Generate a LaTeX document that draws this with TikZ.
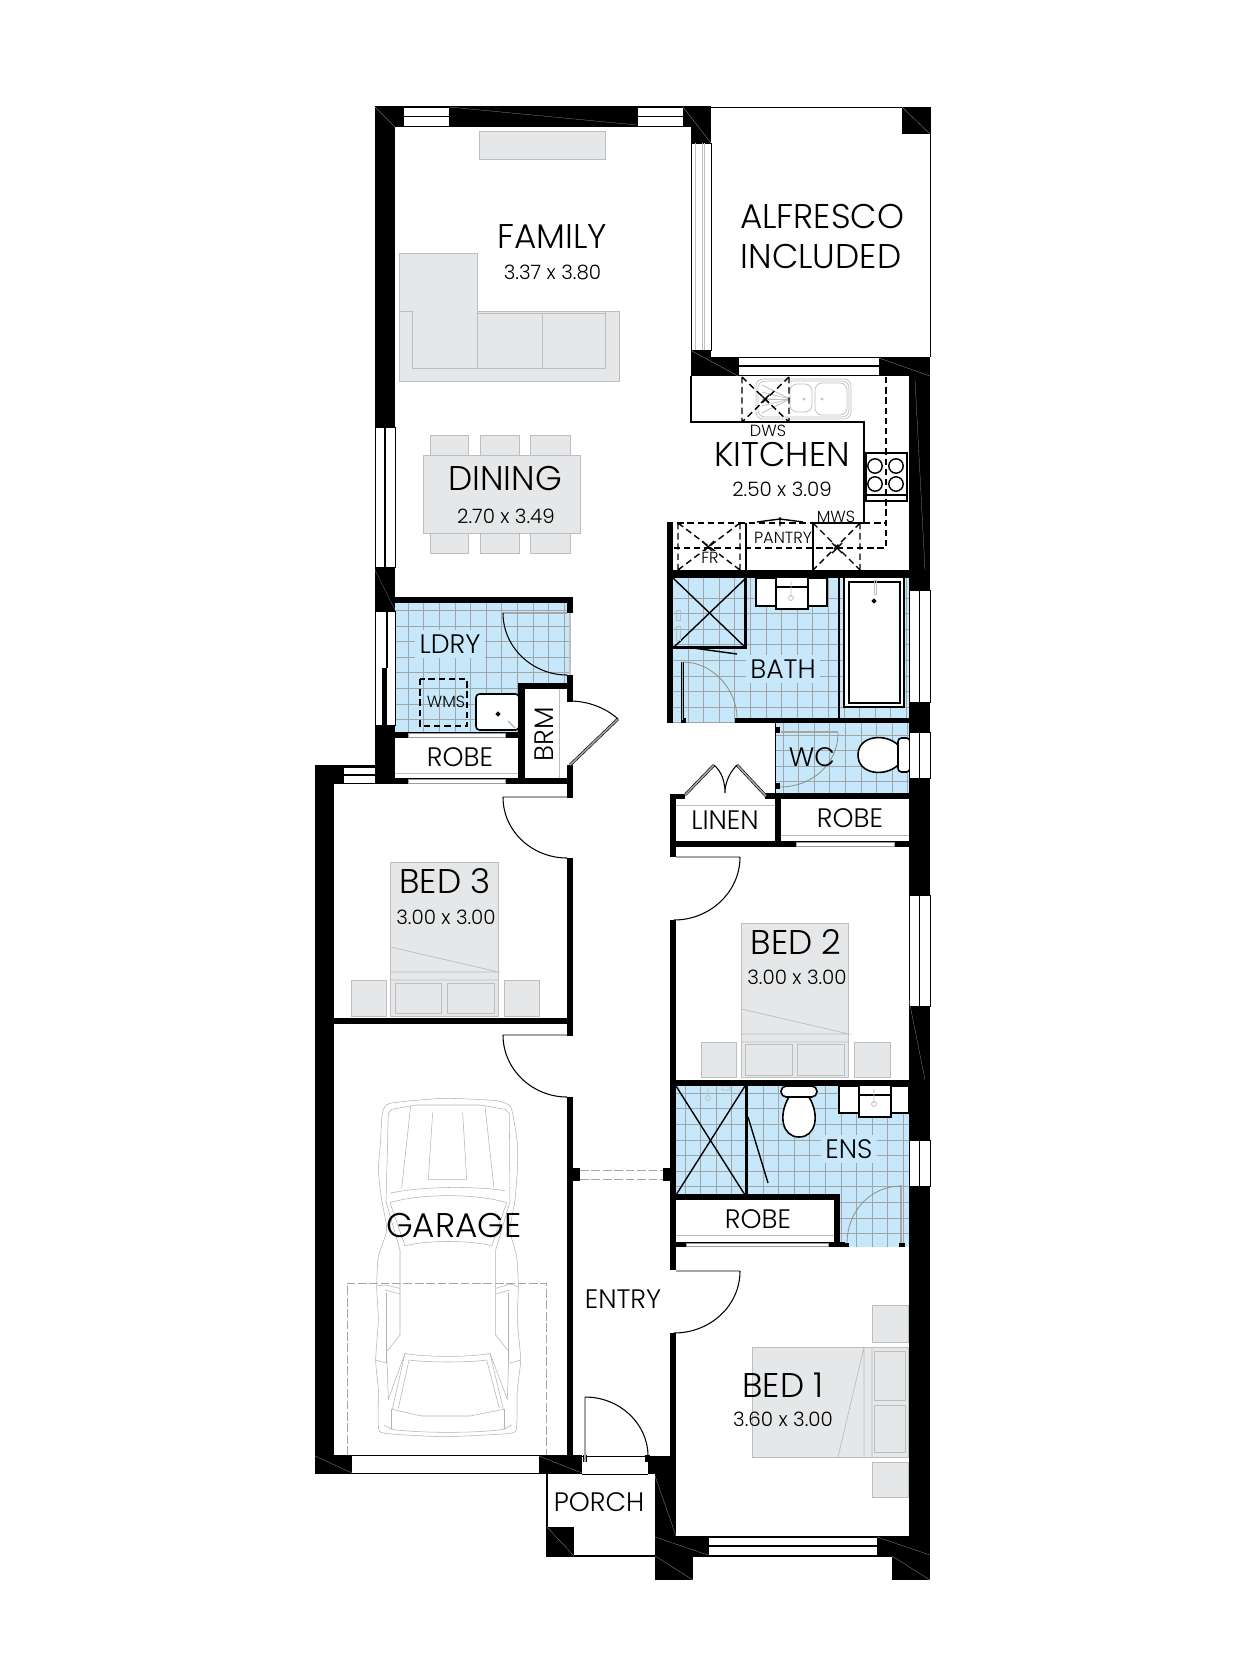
\documentclass[tikz,border=0pt]{standalone}
\usepackage{fontspec}
\setmainfont{Poppins Light}
\definecolor{TileBlue}{RGB}{198, 232, 250}
\definecolor{TileLine}{RGB}{160, 165, 168}
\definecolor{FurnGrey}{RGB}{230, 231, 232}
\definecolor{FurnLine}{RGB}{188, 190, 192}
\usetikzlibrary{arrows.meta, positioning, calc}

\begin{document}
\begin{tikzpicture}[
        x=0.02cm, y=-0.02cm,
        % Styles
        wall/.style={fill=black},
        hair/.style={draw=gray!60, line width=0.12pt},
        window/.style={fill=white, draw=black, line width=0.5pt},
        slimwin/.style={fill=white, draw=black!40, line width=0.3pt},
        furn/.style={fill=FurnGrey, draw=FurnLine, line width=0.5pt},
        fixture/.style={fill=white, draw=black, line width=0.9pt},
        thinfix/.style={draw=FurnLine, line width=0.4pt},
        kline/.style={draw=black, line width=0.8pt},
        kdash/.style={draw=black, line width=0.8pt, dash pattern=on 3.6pt off 2.2pt},
        doorleaf/.style={draw=black, line width=0.35pt, double=black!35, double distance=0.9pt},
        swing/.style={draw=black, line width=0.6pt},
        softswing/.style={draw=black!45, line width=0.45pt},
        car/.style={draw=black!30, line width=0.3pt},
        bigtext/.style={inner sep=0pt, font=\fontsize{19.5}{22}\selectfont},
        midtext/.style={inner sep=0pt, font=\fontsize{15.2}{18}\selectfont},
        dimtext/.style={inner sep=0pt, font=\fontsize{11.3}{14}\selectfont},
        tinytext/.style={inner sep=0pt, font=\fontsize{9.2}{11}\selectfont},
        onblue/.style={fill=TileBlue, inner sep=2.5pt}
    ]
        \useasboundingbox (0,0) rectangle (1245,1680);
        \fill[white] (0,0) rectangle (1245,1680);

        % Tiled rooms
        \foreach \xa/\ya/\xb/\yb/\gx/\gy in {673/578/909/723/688/598, 776/723/909/793/783/735,
            395/603/570/732/408.3/610.5, 676/1086/909/1247/685/1093.3}{
            \fill[TileBlue] (\xa,\ya) rectangle (\xb,\yb);
            \begin{scope}
                \clip (\xa,\ya) rectangle (\xb,\yb);
                \foreach \k in {0,...,15}{
                    \draw[TileLine, line width=0.55pt] ({\gx+15.6*\k},\ya) -- ({\gx+15.6*\k},\yb);
                    \draw[TileLine, line width=0.55pt] (\xa,{\gy+15.6*\k}) -- (\xb,{\gy+15.6*\k});
                }
            \end{scope}
        }
        \fill[white] (525,689) rectangle (570,778);
        \fill[white] (676,1200) rectangle (834,1247);

        % Family and dining furniture
        \draw[furn] (479.5,131) rectangle (605,159);
        \draw[furn] (399.5,253) -- (477,253) -- (477,311) -- (619,311) -- (619,381) -- (399.5,381) -- cycle;
        \draw[thinfix] (399.5,311) -- (412.5,311) -- (412.5,368) -- (605.6,368) -- (605.6,311);
        \draw[thinfix] (477,311) -- (477,368) (542,313) -- (542,368) (477,313) -- (605.6,313);
        \foreach \xa/\xb in {430.5/468.4, 480.7/519.8, 530.5/570.7}{
            \draw[furn] (\xa,435) rectangle (\xb,455);
            \draw[furn] (\xa,533) rectangle (\xb,553);
        }
        \draw[furn] (423.6,455) rectangle (580,533);

        % Beds
        \draw[furn] (390.4,862) rectangle (498.6,1016);
        \draw[thinfix] (390.4,947) -- (498.6,972) -- (390.4,972) (390.4,980) -- (498.6,980);
        \draw[furn] (395.3,983) rectangle (441.4,1013);
        \draw[furn] (447.6,983) rectangle (494.5,1013);
        \draw[furn] (351.2,980) rectangle (386.7,1016);
        \draw[furn] (504.3,980) rectangle (539.4,1016);

        \draw[furn] (741.4,923) rectangle (848.8,1077);
        \draw[thinfix] (741.4,1009) -- (848.8,1034) -- (741.4,1034) (741.4,1042) -- (848.8,1042);
        \draw[furn] (745.5,1044) rectangle (792.4,1075);
        \draw[furn] (797.8,1044) rectangle (844.7,1075);
        \draw[furn] (701.4,1042) rectangle (736.5,1077);
        \draw[furn] (854,1042) rectangle (890.4,1077);

        \draw[furn] (752,1347) rectangle (908,1457);
        \draw[thinfix] (864,1347) -- (838,1457) (864,1347) -- (864,1457) (872,1347) -- (872,1457);
        \draw[furn] (874,1351) rectangle (905,1400);
        \draw[furn] (874,1405) rectangle (905,1452);
        \draw[furn] (872,1305) rectangle (908,1342);
        \draw[furn] (872,1462) rectangle (908,1497);

        % Kitchen
        \draw[kline] (691,376) -- (691,422) -- (864,422) -- (864,523) -- (813,523);
        \draw[thinfix, rounded corners=4pt] (756,379) rectangle (851,419);
        \draw[thinfix, rounded corners=4pt] (758,381) rectangle (849,417);
        \draw[thinfix, rounded corners=4pt] (790,384) rectangle (812,412);
        \draw[thinfix, rounded corners=4pt] (815,383) rectangle (847,415);
        \foreach \v in {385,392,399,406,413}{
            \draw[thinfix] (790,399) -- (762,\v);
        }
        \draw[thinfix] (804,399) circle[radius=1.2] (822,399) circle[radius=1.2];
        \draw[kdash] (742,377) -- (742,422) (789,377) -- (789,422) (742,377) -- (789,422) (789,377) -- (742,422);
        \draw[kline] (761,395) -- (769,403) (769,395) -- (761,403);
        \draw[kline] (866,453) rectangle (907,501) (866,495) -- (907,495);
        \foreach \cx/\cy in {875/466, 896/466, 875/484, 896/484}{
            \draw[kline] (\cx,\cy) circle[radius=7.2];
        }
        \draw[kdash] (886,377) -- (886,548) -- (673,548);
        \draw[kdash] (667,523) -- (813,523) (864,523) -- (886,523);
        \draw[kline] (757,522) -- (780,519) -- (803,522) (780,517) -- (780,526);
        \draw[kline] (746,523) -- (746,570) (813,523) -- (813,570);
        \draw[kdash] (678,523) -- (678,570) (740,523) -- (740,570) (678,523) -- (740,570) (740,523) -- (678,570);
        \draw[kline] (702,541) -- (714,553) (714,541) -- (702,553);
        \fill[white] (701,551) rectangle (719,565);
        \draw[kdash] (860,523) -- (860,570) (813,523) -- (860,570) (860,523) -- (813,570);
        \draw[kline] (832,543) -- (842,553) (842,543) -- (832,553);

        % Bath fixtures
        \draw[kline] (673,578) -- (746,648) (746,578) -- (673,648);
        \draw[kline] (693,648) -- (737,654);
        \draw[fixture] (756,578) rectangle (827,606);
        \draw[fixture] (776,578) -- (776,609) -- (808,609) -- (808,578) (776,587) -- (808,587);
        \draw[thinfix] (791,581) -- (791,597) (791,598) circle[radius=2.5];
        \draw[kline] (839,578) -- (839,718);
        \draw[fixture] (844,578) -- (844,707) -- (904,707) -- (904,578);
        \draw[fixture] (849,582) rectangle (900,703);
        \draw[kline] (874,601) circle[radius=1.6];
        \draw[thinfix] (874,580) rectangle (876,594);
        \draw[thinfix] (676,610) rectangle (680,620) (676,626) rectangle (680,640);

        % Toilet and laundry fixtures
        \draw[fixture] (898,745) .. controls (886,733) and (858,735) .. (858,755) .. controls (858,775) and (886,777) .. (898,765) -- cycle;
        \draw[fixture, rounded corners=2pt] (898,738) rectangle (910,772);
        \draw[fixture, rounded corners=3pt] (781,1086) rectangle (817,1097);
        \draw[fixture] (789,1097) .. controls (778,1115) and (782,1137) .. (799,1137) .. controls (816,1137) and (820,1115) .. (809,1097) -- cycle;
        \draw[fixture] (839,1086) rectangle (909,1113);
        \draw[fixture] (859,1086) -- (859,1117) -- (891,1117) -- (891,1086) (859,1095) -- (891,1095);
        \draw[thinfix] (874,1089) -- (874,1103) (874,1104) circle[radius=2.5];
        \draw[kline] (676,1086) -- (745,1195) (745,1086) -- (676,1195);
        \draw[kline] (748,1117) -- (768,1183);
        \draw[thinfix] (708,1088) -- (708,1095) (708,1098) circle[radius=2.5] (722,1086) rectangle (730,1090);
        \draw[fixture, rounded corners=2pt] (476,694) rectangle (519,730);
        \draw[kline] (498,714) circle[radius=1.6];
        \draw[thinfix, line width=0.9pt] (508,721) -- (515,728);
        \draw[kdash] (420,679) rectangle (467,726);

        % Walls
        \foreach \xa/\ya/\xb/\yb in {375/106/711/127, 375/106/395/427, 375/567/395/612, 691/106/711/143,
            691/350/711/376, 711/357/738/376, 879/357/930/376, 902/107/930/134, 909/376/930/1536,
            667/522/673/570, 667/570/909/578, 667/578/673/723, 737/718/909/723, 744/578/747/648, 673/646/747/649,
            765/793/909/799, 775/793/781/847, 670/794/685/799, 670/794/676/857, 670/841/909/847,
            670/920/676/1086, 670/1080/909/1086, 670/1086/676/1270, 745/1086/748/1195, 676/1194/840/1200,
            834/1200/840/1247, 670/1242/845/1247, 663/1168/670/1181, 670/1333/676/1457,
            375/597/573/603, 567/603/573/613, 567/675/573/702, 518/683/573/689, 518/683/525/778,
            375/725/395/784, 375/732/518/738, 375/778/573/784, 567/765/573/798,
            315/765/343/784, 343/765/375/767, 315/765/334/1018, 567/858/573/1036, 315/1018/573/1024,
            315/1024/334/1455, 567/1097/573/1455, 567/1168/580/1181, 315/1455/582/1474,
            648/1456/676/1474, 655/1474/676/1536, 655/1536/930/1556, 655/1556/693/1580, 892/1556/930/1580,
            547/1527/574/1556, 775/727/780/733, 775/783/780/789, 681/718/686/723, 735/718/738/723,
            845/1243/849/1247, 899/1243/905/1247, 583/1455/587/1462, 645/1455/650/1462}{
            \fill[wall] (\xa,\ya) rectangle (\xb,\yb);
        }

        % Outlines of the alfresco and the porch
        \draw[kline, line width=0.5pt] (711,107) -- (930,107) -- (930,357);
        \draw[kline, line width=0.5pt] (582,1456) -- (648,1456) (582,1474) -- (648,1474);
        \draw[kline] (547,1474) -- (547,1556) -- (655,1556) (693,1556) -- (892,1556);
        \draw[kline, line width=0.4pt] (775,723) -- (775,793);
        \draw[TileLine!70, line width=0.6pt] (570,613) -- (570,675);

        % Windows
        \foreach \xa/\ya/\xb/\yb in {403/107/449/126, 637/107/683/126, 738/357/879/375, 708/1537/877/1555, 343/767/375/783}{
            \draw[window] (\xa,\ya) rectangle (\xb,\yb);
            \draw[black, line width=0.9pt] (\xa,{(\ya+\yb)/2}) -- (\xb,{(\ya+\yb)/2});
        }
        \foreach \xa/\ya/\xb/\yb in {375/427/395/567, 909/590/930/702, 909/732/930/778, 909/895/930/1006, 909/1140/930/1186}{
            \draw[window] (\xa,\ya) rectangle (\xb,\yb);
            \draw[black, line width=0.9pt] ({(\xa+\xb)/2},\ya) -- ({(\xa+\xb)/2},\yb);
        }
        \foreach \xa/\ya/\xb/\yb in {408/733/505/737, 408/779/505/783, 796/842/894/846, 686/1243/828/1246}{
            \draw[slimwin] (\xa,\ya) rectangle (\xb,\yb);
        }
        \fill[white] (352,1456) rectangle (539,1473);
        \draw[window] (691,143) rectangle (711,350);
        \draw[thinfix] (695,143) -- (695,350) (702,143) -- (702,350) (704,143) -- (704,350);
        \draw[window] (375,611) rectangle (395,725);
        \fill[wall] (382,668) rectangle (387,725);
        \draw[kline] (387,611) -- (387,668);

        % Wall mitres
        \foreach \xa/\ya/\xb/\yb in {375/107/395/127, 449/107/637/125, 683/107/711/143, 692/351/738/376, 879/358/930/376,
            902/107/930/134, 915/380/925/570, 375/570/395/610, 909/1000/925/1080, 315/1456/352/1473, 539/1456/582/1473,
            655/1476/676/1536, 655/1537/708/1555, 877/1537/930/1555, 655/1556/693/1580, 892/1556/930/1580, 547/1527/574/1556}{
            \draw[hair] (\xa,\ya) -- (\xb,\yb);
        }

        % Doors
        \draw[doorleaf] (503,797) -- (567,797);
        \draw[swing] (503,797) .. controls (503,832) and (533,858) .. (567,858);
        \draw[doorleaf] (503,1035) -- (567,1035);
        \draw[swing] (503,1035) .. controls (503,1070) and (533,1097) .. (567,1097);
        \draw[doorleaf] (503,613) -- (567,613);
        \draw[swing] (503,613) .. controls (503,648) and (533,675) .. (567,675);
        \draw[doorleaf] (676,857) -- (740,857);
        \draw[swing] (740,857) .. controls (740,892) and (710,920) .. (674,920);
        \draw[doorleaf] (676,1271) -- (740,1271);
        \draw[swing] (740,1271) .. controls (740,1306) and (710,1333) .. (674,1333);
        \draw[doorleaf] (585,1397) -- (585,1462);
        \draw[swing] (585,1397) .. controls (620,1397) and (648,1424) .. (648,1456);
        \draw[doorleaf] (570,765) -- (618,719);
        \draw[swing] (570,701) .. controls (588,701) and (606,708) .. (618,719);
        \draw[doorleaf] (685,795) -- (714,765);
        \draw[doorleaf] (766,796) -- (737,765);
        \draw[swing] (714,765) .. controls (722,772) and (725,782) .. (725,793) .. controls (725,782) and (730,772) .. (737,765);
        \draw[doorleaf] (682.5,662) -- (682.5,720);
        \draw[softswing] (683,662) .. controls (713,662) and (737,690) .. (737,718);
        \draw[doorleaf] (781,732) -- (838,732);
        \draw[softswing] (838,733) .. controls (838,763) and (813,787) .. (780,787);
        \draw[doorleaf] (901,1185) -- (901,1243);
        \draw[softswing] (901,1186) .. controls (870,1186) and (847,1212) .. (847,1243);
        \draw[draw=black!35, line width=0.4pt, dash pattern=on 5pt off 1.5pt] (580,1170) -- (663,1170) (580,1179) -- (663,1179);

        % Robe and linen shelves
        \draw[thinfix] (395,773) -- (518,773) (559,689) -- (559,778) (676,805) -- (775,805);
        \draw[thinfix] (781,835) -- (909,835) (676,1235) -- (834,1235);

        % Car, drawn at three times the size
        \draw[draw=black!35, line width=0.3pt, dash pattern=on 5pt off 1.5pt] (347,1455) -- (347,1283) -- (546,1283) -- (546,1455);
        \begin{scope}[shift={(310,1080)}, x=0.02cm/3, y=-0.02cm/3]
            \draw[car] plot[smooth cycle, tension=0.35] coordinates {(240,70) (400,55) (560,62) (600,78) (610,110) (622,190) (622,270)
                (615,360) (600,450) (620,530) (625,620) (622,720) (632,840) (622,930) (620,1040) (600,1060) (400,1070) (225,1060)
                (205,1040) (205,930) (197,840) (205,720) (200,620) (205,530) (230,450) (215,360) (205,270) (212,180) (217,100)};
            \draw[car] (228,365) -- (235,100) -- (245,88) -- (317,75) -- (510,75) -- (585,88) -- (598,100) -- (600,365);
            \draw[car] (302,78) -- (275,325) (525,78) -- (552,325);
            \draw[car] (368,98) -- (355,298) -- (470,298) -- (458,98);
            \draw[car] (240,340) .. controls (330,318) and (500,318) .. (585,332);
            \draw[car] (240,368) .. controls (330,340) and (500,340) .. (590,368);
            \draw[car] (240,368) -- (285,498) (590,368) -- (545,498);
            \draw[car] (285,498) .. controls (340,480) and (490,480) .. (545,498);
            \draw[car] (228,365) -- (270,510) -- (270,765) (600,365) -- (557,510) -- (557,765);
            \draw[car] (230,640) -- (230,850) (595,640) -- (595,850);
            \draw[car] (203,617) -- (225,615) -- (270,625) (225,630) -- (270,642);
            \draw[car] (625,620) -- (600,612) -- (558,625) (600,630) -- (558,642);
            \draw[car] (285,820) .. controls (340,832) and (490,832) .. (540,820) -- (580,988);
            \draw[car] (285,820) -- (247,988) (297,840) -- (265,985) (530,840) -- (568,985);
            \draw[car] (297,840) .. controls (350,848) and (480,848) .. (530,840);
            \draw[car] (245,988) -- (335,1008) -- (480,1008) -- (582,988);
            \draw[car] (245,988) -- (245,1048) (582,988) -- (582,1048);
            \draw[car] (222,1035) -- (245,1048) .. controls (330,1060) and (500,1060) .. (582,1048) -- (605,1035);
            \draw[car] (270,765) -- (230,815) -- (235,958) -- (285,820);
            \draw[car] (557,765) -- (597,815) -- (592,958) -- (540,820);
            \draw[car] (197,840) -- (230,850) (632,840) -- (597,850);
        \end{scope}

        % Labels
        \node[bigtext] (family) at (552,237) {FAMILY};
        \node[dimtext] (familydim) at (552.5,272) {3.37 x 3.80};
        \node[bigtext] (dining) at (505,479) {DINING};
        \node[dimtext] (diningdim) at (506,516) {2.70 x 3.49};
        \node[bigtext] (alfresco) at (822,217) {ALFRESCO};
        \node[bigtext] (included) at (821,257) {INCLUDED};
        \node[bigtext] (kitchen) at (782,454) {KITCHEN};
        \node[dimtext] (kitchendim) at (782,489) {2.50 x 3.09};
        \node[tinytext] (dws) at (768,431) {DWS};
        \node[tinytext] (mws) at (836,517) {MWS};
        \node[tinytext] (pantry) at (783,538) {PANTRY};
        \node[tinytext] (fr) at (710,558) {FR};
        \node[midtext, onblue] (bath) at (783,669) {BATH};
        \node[midtext, onblue] (ldry) at (450,644) {LDRY};
        \node[tinytext] (wms) at (446,702) {WMS};
        \node[midtext] (brm) at (544,734) [rotate=90] {BRM};
        \node[midtext] (robea) at (460,757) {ROBE};
        \node[midtext] (wc) at (812,757) {WC};
        \node[midtext] (linen) at (725,820) {LINEN};
        \node[midtext] (robeb) at (850,818) {ROBE};
        \node[bigtext] (bedc) at (445,881) {BED 3};
        \node[dimtext] (bedcdim) at (446,917) {3.00 x 3.00};
        \node[bigtext] (bedb) at (796,942) {BED 2};
        \node[dimtext] (bedbdim) at (797,977) {3.00 x 3.00};
        \node[midtext, onblue] (ens) at (849,1149) {ENS};
        \node[midtext] (robec) at (758,1219) {ROBE};
        \node[bigtext] (garage) at (454,1225) {GARAGE};
        \node[midtext] (entry) at (623,1299) {ENTRY};
        \node[bigtext] (beda) at (783,1385) {BED 1};
        \node[dimtext] (bedadim) at (783,1419) {3.60 x 3.00};
        \node[midtext] (porch) at (599,1502) {PORCH};
    \end{tikzpicture}
\end{document}
